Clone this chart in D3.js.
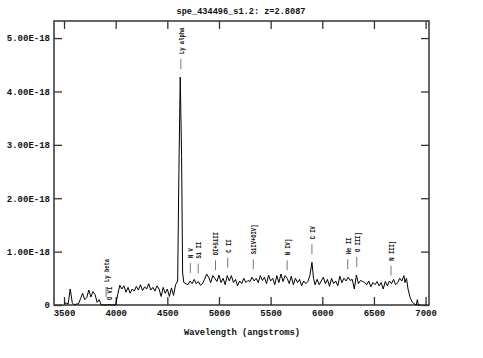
<!DOCTYPE html>
<html>
<head>
<title>spe_434496_s1.2</title>
<meta charset="utf-8">
<style type="text/css">
body { margin: 0; background-color: #fff; }
svg text { font-family: "Liberation Mono", "DejaVu Sans Mono", monospace; font-weight: bold; fill: #111; }
</style>
</head>
<body>
<svg id="chart"></svg>

<script src="https://cdn.jsdelivr.net/npm/d3@7"></script>
<script type="text/javascript">
const TITLE = "spe_434496_s1.2: z=2.8087";
const REDSHIFT = 2.8087;

// spectrum, flux in units of 1e-18
const wavelength = [
  3500, 3520, 3540, 3560, 3580, 3600, 3620, 3640, 3660, 3680, 3700, 3720, 3740, 3760, 3780, 3800,
  3820, 3840, 3860, 3880, 3900, 3920, 3940, 3960, 3980, 4000, 4020, 4040, 4060, 4080, 4100, 4120,
  4140, 4160, 4180, 4200, 4220, 4240, 4260, 4280, 4300, 4320, 4340, 4360, 4380, 4400, 4420, 4440,
  4460, 4480, 4500, 4520, 4540, 4560, 4580, 4600, 4612, 4625, 4638, 4648, 4660, 4680, 4700, 4720,
  4740, 4760, 4780, 4800, 4820, 4840, 4860, 4880, 4900, 4920, 4940, 4960, 4980, 5000, 5020, 5040,
  5060, 5080, 5100, 5120, 5140, 5160, 5180, 5200, 5220, 5240, 5260, 5280, 5300, 5320, 5340, 5360,
  5380, 5400, 5420, 5440, 5460, 5480, 5500, 5520, 5540, 5560, 5580, 5600, 5620, 5640, 5660, 5680,
  5700, 5720, 5740, 5760, 5780, 5800, 5820, 5840, 5860, 5880, 5900, 5915, 5930, 5950, 5970, 5990,
  6010, 6030, 6050, 6070, 6090, 6110, 6130, 6150, 6170, 6190, 6210, 6230, 6250, 6270, 6290, 6310,
  6330, 6350, 6370, 6390, 6410, 6430, 6450, 6470, 6490, 6510, 6530, 6550, 6570, 6590, 6610, 6630,
  6650, 6670, 6690, 6710, 6730, 6750, 6770, 6790, 6800, 6815, 6830, 6850, 6870, 6890, 6910, 6920,
  6930, 6950
];
const flux = [
  0.02, 0.04, 0.02, 0.30, 0.04, 0.00, 0.02, 0.02, 0.12, 0.22, 0.10, 0.14, 0.28, 0.15, 0.25, 0.20,
  0.05, 0.10, 0.00, 0.00, 0.00, 0.00, 0.01, 0.00, 0.00, 0.00, 0.20, 0.37, 0.30, 0.36, 0.24, 0.33,
  0.22, 0.30, 0.26, 0.35, 0.28, 0.38, 0.27, 0.34, 0.30, 0.40, 0.28, 0.33, 0.26, 0.36, 0.30, 0.16,
  0.33, 0.22, 0.30, 0.16, 0.32, 0.18, 0.38, 0.45, 2.50, 4.27, 2.80, 0.60, 0.42, 0.40, 0.38, 0.45,
  0.40, 0.48, 0.40, 0.44, 0.37, 0.40, 0.48, 0.58, 0.52, 0.42, 0.55, 0.50, 0.44, 0.56, 0.42, 0.50,
  0.38, 0.55, 0.45, 0.55, 0.42, 0.48, 0.36, 0.45, 0.40, 0.50, 0.42, 0.46, 0.44, 0.52, 0.45, 0.50,
  0.42, 0.55, 0.46, 0.52, 0.40, 0.56, 0.45, 0.50, 0.38, 0.55, 0.42, 0.58, 0.44, 0.55, 0.50, 0.40,
  0.54, 0.38, 0.50, 0.42, 0.48, 0.36, 0.45, 0.40, 0.44, 0.55, 0.80, 0.50, 0.38, 0.48, 0.38, 0.45,
  0.52, 0.40, 0.48, 0.35, 0.50, 0.40, 0.45, 0.36, 0.54, 0.42, 0.50, 0.45, 0.52, 0.46, 0.48, 0.30,
  0.56, 0.40, 0.46, 0.44, 0.42, 0.38, 0.45, 0.34, 0.42, 0.38, 0.44, 0.36, 0.42, 0.30, 0.44, 0.36,
  0.45, 0.40, 0.48, 0.38, 0.42, 0.50, 0.45, 0.55, 0.42, 0.50, 0.30, 0.14, 0.06, 0.02, 0.00, 0.10,
  0.00, 0.00
];

// emission lines, rest wavelengths
const lineNames = ["Ly beta", "O VI", "Ly alpha", "N V", "Si II", "OI+SiII", "C II", "SiIV+OIV]",
  "N IV]", "C IV", "He II", "O III]", "N III]"];
const lineRest = [1026, 1034, 1216, 1240, 1260, 1304, 1335, 1400, 1486, 1549, 1640, 1663, 1750];

const xTicks = [3500, 4000, 4500, 5000, 5500, 6000, 6500, 7000];
const yTicks = [0, 1, 2, 3, 4, 5];
const yTickLabels = ["0", "1.00E-18", "2.00E-18", "3.00E-18", "4.00E-18", "5.00E-18"];

const WIDTH = 483, HEIGHT = 358;
const MARGIN = {top: 21, right: 54, bottom: 53, left: 54};
const TICK = 8;

const x = d3.scaleLinear().domain([3403, 7033]).range([MARGIN.left, WIDTH - MARGIN.right]);
const y = d3.scaleLinear().domain([0, 5.32]).range([HEIGHT - MARGIN.bottom, MARGIN.top]);

const svg = d3.select("#chart").attr("width", WIDTH).attr("height", HEIGHT);

// title
svg.append("text")
    .attr("x", 241).attr("y", 14)
    .attr("text-anchor", "middle")
    .attr("font-size", 8.6)
    .text(TITLE);

// frame
svg.append("rect")
    .attr("x", x.range()[0]).attr("y", y.range()[1])
    .attr("width", x.range()[1] - x.range()[0])
    .attr("height", y.range()[0] - y.range()[1])
    .attr("fill", "none").attr("stroke", "#333").attr("stroke-width", 1.5);

// axes, ticks pointing inward
const axisStyle = g => {
    g.select(".domain").remove();
    g.selectAll(".tick line").attr("stroke", "#333").attr("stroke-width", 1.3);
    g.selectAll(".tick text").attr("font-size", 9).attr("fill", "#111");
};
svg.append("g")
    .attr("transform", `translate(0,${y.range()[0]})`)
    .call(d3.axisBottom(x).tickValues(xTicks).tickFormat(d3.format("d"))
        .tickSizeInner(-TICK).tickSizeOuter(0).tickPadding(5))
    .call(axisStyle);
svg.append("g")
    .attr("transform", `translate(0,${y.range()[1]})`)
    .call(d3.axisTop(x).tickValues(xTicks).tickFormat("").tickSizeInner(-TICK).tickSizeOuter(0))
    .call(axisStyle);
svg.append("g")
    .attr("transform", `translate(${x.range()[0]},0)`)
    .call(d3.axisLeft(y).tickValues(yTicks).tickFormat((d, i) => yTickLabels[i])
        .tickSizeInner(-TICK).tickSizeOuter(0).tickPadding(4))
    .call(axisStyle);
svg.append("g")
    .attr("transform", `translate(${x.range()[1]},0)`)
    .call(d3.axisRight(y).tickValues(yTicks).tickFormat("").tickSizeInner(-TICK).tickSizeOuter(0))
    .call(axisStyle);

// x title
svg.append("text")
    .attr("x", 242).attr("y", 335)
    .attr("text-anchor", "middle")
    .attr("font-size", 8.8)
    .text("Wavelength (angstroms)");

// spectrum
const data = wavelength.map((w, i) => ({w: w, f: flux[i]}));
svg.append("path").datum(data)
    .attr("fill", "none")
    .attr("stroke", "#000")
    .attr("stroke-width", 1)
    .attr("stroke-linejoin", "round")
    .attr("d", d3.line().x(d => x(d.w)).y(d => y(d.f)));

// emission line labels
let prevX = -100;
lineNames.forEach((name, i) => {
    const w = lineRest[i] * (1 + REDSHIFT);
    const near = data.filter(d => Math.abs(d.w - w) <= 15);
    const fmax = near.length ? d3.max(near, d => d.f) : 0;
    const lx = x(w);
    const ly = y(fmax);
    let textBottom;
    if (Math.abs(lx - prevX) < 6) {
        textBottom = y(0) - 5;
    } else {
        svg.append("line")
            .attr("x1", lx).attr("x2", lx)
            .attr("y1", ly - 8).attr("y2", ly - 18)
            .attr("stroke", "#777").attr("stroke-width", 1);
        textBottom = ly - 23;
    }
    prevX = lx;
    svg.append("text")
        .attr("transform", `translate(${lx},${textBottom}) rotate(-90)`)
        .attr("dy", "0.35em")
        .attr("font-size", 8)
        .attr("textLength", name.length * 3.3)
        .attr("lengthAdjust", "spacingAndGlyphs")
        .text(name);
});
</script>
</body>
</html>
